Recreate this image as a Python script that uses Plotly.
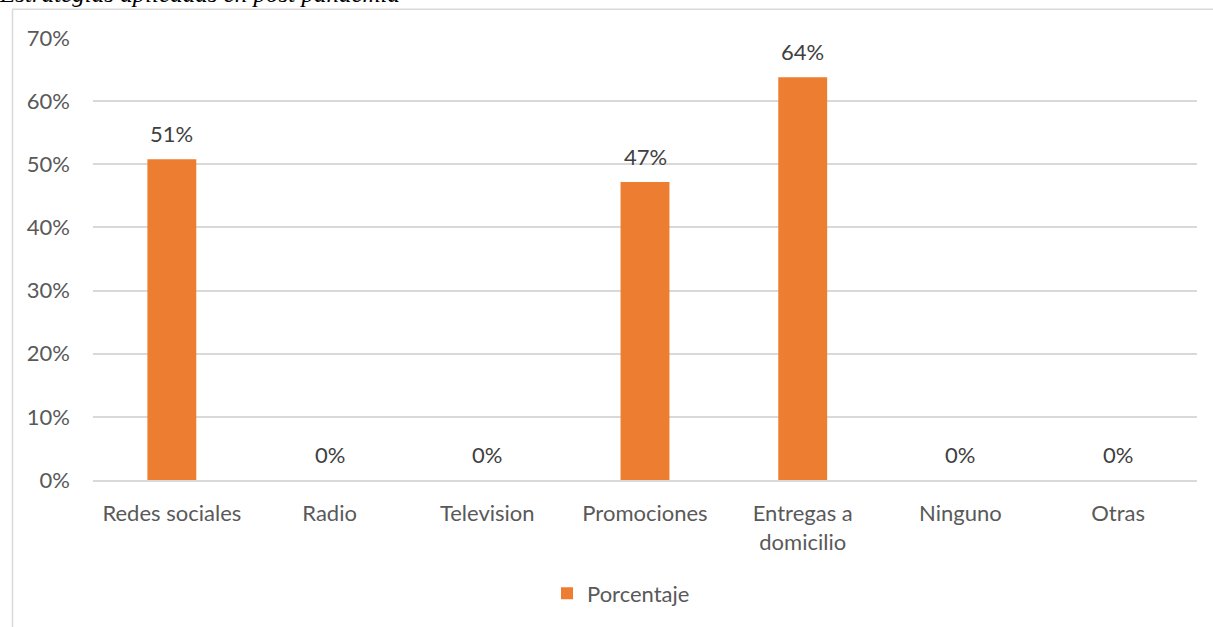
import plotly.graph_objects as go

categories = ["Redes sociales", "Radio", "Television", "Promociones", "Entregas a<br>domicilio", "Ninguno", "Otras"]
values = [0.508, 0.0, 0.0, 0.472, 0.638, 0.0, 0.0]
labels = ["51%", "0%", "0%", "47%", "64%", "0%", "0%"]
series_name = "Porcentaje"
title_text = "Estrategias aplicadas en post pandemia"

W, H = 1213, 627
L, R, T, B = 93, 16, 38, 145
pw, ph = W - L - R, H - T - B

def px_x(x):
    return (x - L) / pw

def px_y(y):
    return (H - B - y) / ph

font_fam = "Lato, Open Sans, sans-serif"
grey = "#595959"
FS = 22

fig = go.Figure()
fig.add_trace(go.Bar(
    x=categories, y=values, name=series_name,
    marker=dict(color="#ED7D31", line=dict(width=0)),
    showlegend=True,
))

for c, v, t in zip(categories, values, labels):
    fig.add_annotation(x=c, y=v, xref="x", yref="y", text=t, showarrow=False,
                       yanchor="bottom", yshift=10,
                       font=dict(family=font_fam, size=FS, color="#404040"))

# title, partially cut at the top (as in the reference)
fig.add_annotation(x=px_x(-3), y=px_y(9), xref="paper", yref="paper", text="<i>" + title_text + "</i>",
                   showarrow=False, xanchor="left", yanchor="bottom",
                   font=dict(family="Liberation Serif, serif", size=25, color="#000000"))

# chart border (left and top)
fig.add_shape(type="line", xref="paper", yref="paper", x0=px_x(12.5), x1=px_x(W + 5), y0=px_y(9), y1=px_y(9),
              line=dict(color="#d9d9d9", width=1.5))
fig.add_shape(type="line", xref="paper", yref="paper", x0=px_x(12.5), x1=px_x(12.5), y0=px_y(9), y1=px_y(H + 5),
              line=dict(color="#d9d9d9", width=1.5))

fig.update_layout(
    width=W, height=H,
    margin=dict(l=L, r=R, t=T, b=B),
    paper_bgcolor="white", plot_bgcolor="white",
    bargap=0.69,
    font=dict(family=font_fam, size=FS, color=grey),
    legend=dict(orientation="h", x=px_x(547), xanchor="left", y=px_y(596), yanchor="middle",
                itemwidth=30, font=dict(family=font_fam, size=FS, color=grey)),
    xaxis=dict(showline=True, linecolor="#d9d9d9", linewidth=1.5, ticks="", showgrid=False,
               ticklabelstandoff=13, tickfont=dict(family=font_fam, size=FS, color=grey)),
    yaxis=dict(range=[0, 0.7], dtick=0.1, tickformat=".0%", showgrid=True, gridcolor="#d9d9d9",
               gridwidth=1.5, zeroline=False, showline=False, ticks="", ticklabelstandoff=22,
               tickfont=dict(family=font_fam, size=FS, color=grey)),
)

fig.write_html("out.html", config={"displayModeBar": False},
               post_script="document.body.style.margin='0';")
